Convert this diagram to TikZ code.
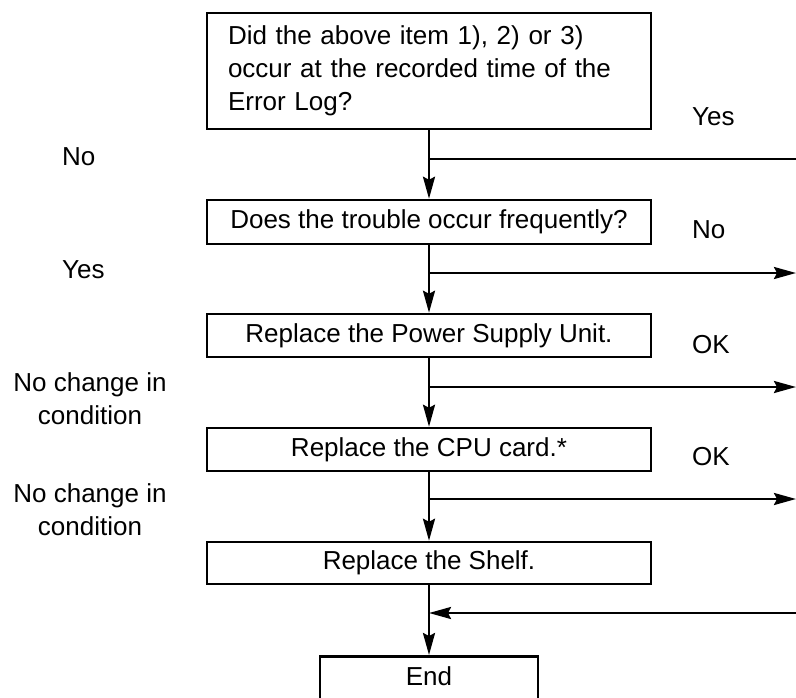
\documentclass[tikz,border=0pt]{standalone}
\usepackage{fontspec}
\setmainfont{Liberation Sans}
\usetikzlibrary{arrows.meta}
\tikzset{
  every node/.style={font=\fontsize{26pt}{33pt}\selectfont},
  box/.style={draw, line width=2.5pt, minimum width=444pt, inner sep=0pt, align=center},
  lbl/.style={inner sep=0pt, anchor=west},
  clbl/.style={inner sep=0pt, align=center},
  conn/.style={line width=2.5pt},
  arr/.style={line width=2.5pt, -{Stealth[length=22pt,width=12pt,inset=3pt]}}
}
\begin{document}
\begin{tikzpicture}[x=1pt,y=-1pt]
\useasboundingbox (0,0) rectangle (796,697);
\clip (0,0) rectangle (796,697);
% boxes
\node[box, minimum height=116pt, text width=402pt, align=left] (b1) at (429,71)
  {Did the above item 1), 2) or 3)\\occur at the recorded time of the\\Error Log?};
\node[box, minimum height=44pt] (b2) at (429,222) {Does the trouble occur frequently?};
\node[box, minimum height=43pt] (b3) at (429,335.5) {Replace the Power Supply Unit.};
\node[box, minimum height=43pt] (b4) at (429,449.5) {Replace the CPU card.*};
\node[box, minimum height=42pt] (b5) at (429,563) {Replace the Shelf.};
\node[draw, line width=2.5pt, minimum width=218pt, inner xsep=0pt, inner ysep=0pt,
      text height=29.3pt, text depth=40pt, anchor=north] (e) at (429,655) {End};
% junctions and free ends
\coordinate (j1) at (429,159); \coordinate (r1) at (796,159);
\coordinate (j2) at (429,273); \coordinate (r2) at (796,273);
\coordinate (j3) at (429,387); \coordinate (r3) at (796,387);
\coordinate (j4) at (429,499); \coordinate (r4) at (796,499);
\coordinate (j5) at (429,613); \coordinate (r5) at (796,613);
% vertical flow
\draw[arr] (b1) -- (b2);
\draw[arr] (b2) -- (b3);
\draw[arr] (b3) -- (b4);
\draw[arr] (b4) -- (b5);
\draw[arr] (b5) -- (e);
% branches
\draw[conn] (j1) -- (r1);
\draw[arr] (j2) -- (r2);
\draw[arr] (j3) -- (r3);
\draw[arr] (j4) -- (r4);
\draw[arr] (r5) -- (j5);
% right labels
\node[lbl] (ly) at (692,117) {Yes};
\node[lbl] (ln) at (692,230) {No};
\node[lbl] (lo1) at (692,345) {OK};
\node[lbl] (lo2) at (692,457) {OK};
% left labels
\node[lbl] (lno) at (62,157) {No};
\node[lbl] (lyes) at (62,270) {Yes};
\node[clbl] (lc1) at (90,398.5) {No change in\\condition};
\node[clbl] (lc2) at (90,509.5) {No change in\\condition};
\end{tikzpicture}
\end{document}
